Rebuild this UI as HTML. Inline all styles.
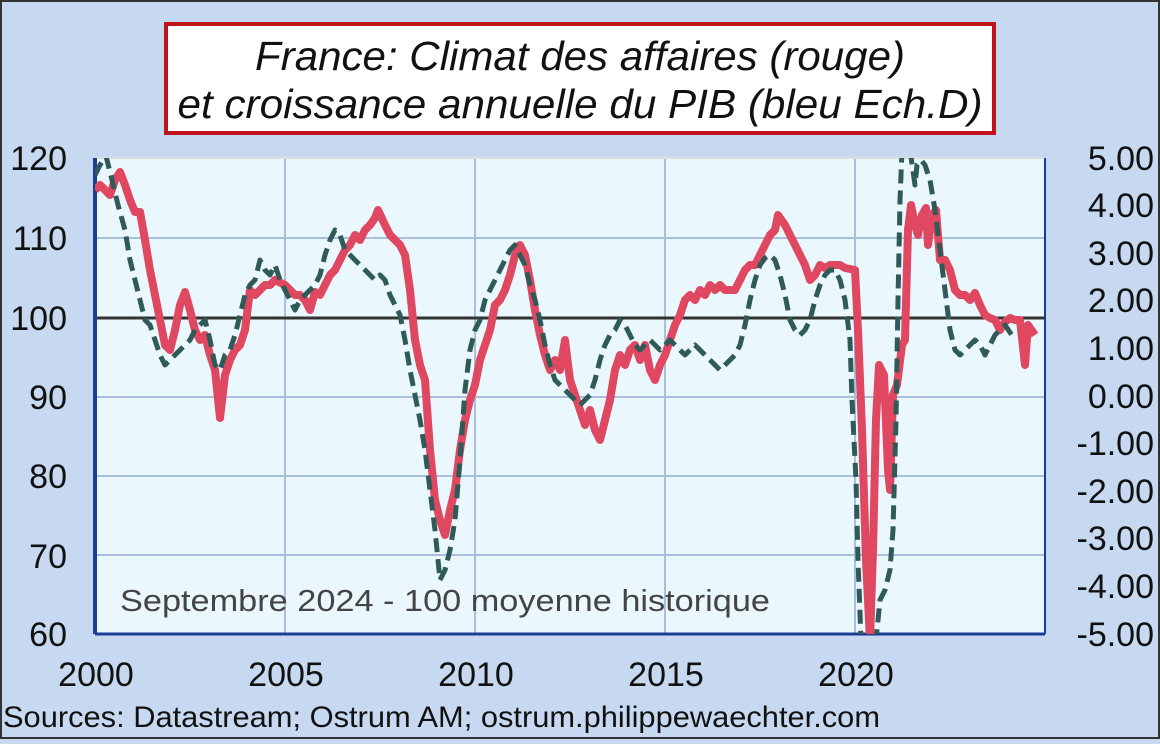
<!DOCTYPE html>
<html><head><meta charset="utf-8"><style>
body{margin:0;width:1160px;height:739px;overflow:hidden;background:#c6d9f0;font-family:"Liberation Sans",sans-serif;}
</style></head><body>
<svg width="1160" height="739" xmlns="http://www.w3.org/2000/svg" font-family="Liberation Sans, sans-serif">
<rect x="0" y="0" width="1160" height="739" fill="#c6d9f0"/>
<rect x="1" y="1" width="1158" height="737" fill="none" stroke="#333" stroke-width="2"/>
<rect x="166" y="24" width="828" height="109" fill="#fff" stroke="#c0141c" stroke-width="4"/>
<text x="580" y="70" font-size="41" font-style="italic" text-anchor="middle" fill="#111" textLength="650" lengthAdjust="spacingAndGlyphs">France: Climat des affaires (rouge)</text>
<text x="580" y="118" font-size="41" font-style="italic" text-anchor="middle" fill="#111" textLength="805" lengthAdjust="spacingAndGlyphs">et croissance annuelle du PIB (bleu Ech.D)</text>
<rect x="95" y="158" width="950" height="476" fill="#eaf8fe"/>
<g stroke="#a9bfdc" stroke-width="2">
<line x1="95" y1="238" x2="1045" y2="238"/><line x1="95" y1="397" x2="1045" y2="397"/>
<line x1="95" y1="476" x2="1045" y2="476"/><line x1="95" y1="555" x2="1045" y2="555"/>
<line x1="285" y1="158" x2="285" y2="634"/><line x1="475" y1="158" x2="475" y2="634"/>
<line x1="665" y1="158" x2="665" y2="634"/><line x1="855" y1="158" x2="855" y2="634"/>
</g>
<line x1="95" y1="318" x2="1045" y2="318" stroke="#333" stroke-width="3"/>
<line x1="95" y1="158" x2="1045" y2="158" stroke="#ddd" stroke-width="2"/>
<line x1="95" y1="158" x2="95" y2="634" stroke="#1a3e96" stroke-width="4"/>
<line x1="1045" y1="158" x2="1045" y2="634" stroke="#1a3e96" stroke-width="2"/>
<line x1="95" y1="634" x2="1045" y2="634" stroke="#1a3e96" stroke-width="3"/>
<svg x="95" y="158" width="950" height="476" viewBox="95 158 950 476" overflow="hidden">
<polyline fill="none" stroke="#df4860" stroke-width="8" stroke-linejoin="round" points="95,190 100,185 105,190 110,195 115,180 120,172 125,185 130,200 135,212 140,212 145,240 150,270 155,295 160,320 165,345 170,350 175,330 180,305 185,292 190,310 195,330 200,340 205,335 210,355 215,370 220,418 225,375 230,360 235,350 240,345 245,330 250,290 255,295 260,290 265,285 270,285 275,280 285,285 290,290 295,295 300,295 305,300 310,310 315,292 320,295 325,285 330,275 335,270 340,260 345,250 350,245 355,235 360,240 365,230 370,225 375,218 378,210 385,225 390,235 395,240 400,245 405,255 410,290 415,340 420,365 425,380 430,450 435,500 440,520 445,535 450,510 455,490 460,450 465,420 470,400 475,385 480,360 485,345 490,330 495,305 500,300 505,290 510,275 515,255 520,245 525,255 530,280 535,310 540,335 545,355 550,370 555,360 560,370 565,340 570,380 575,395 580,410 585,425 590,410 595,430 600,440 605,420 610,400 615,370 620,355 625,365 630,350 635,345 640,360 645,345 650,370 655,380 660,365 665,355 670,340 675,325 680,315 685,300 690,295 695,300 700,290 705,295 710,285 715,290 720,285 725,290 730,290 735,290 740,280 745,270 750,265 755,265 760,255 765,245 770,235 775,230 778,215 785,225 790,235 795,245 800,255 805,265 810,280 815,275 820,265 825,268 830,265 835,265 840,265 845,268 855,270 858,330 862,430 866,560 870,640 873,550 876,420 879,365 884,375 888,470 890,490 893,395 897,385 902,345 905,340 908,230 911,205 915,225 918,235 922,215 926,208 928,245 932,215 936,210 940,260 945,260 950,270 955,290 960,295 965,295 970,300 975,293 980,305 985,315 990,318 995,320 1000,330 1005,322 1010,318 1015,320 1020,320 1025,365 1028,325 1035,335"/>
<polyline fill="none" stroke="#2f5a57" stroke-width="5" stroke-dasharray="14,7" stroke-linejoin="round" points="95,175 100,165 106,156 112,180 118,205 125,230 130,260 135,280 140,300 145,320 150,325 155,340 160,355 165,365 170,360 175,355 180,350 185,345 190,340 195,330 200,325 205,320 210,340 215,365 220,370 225,355 230,350 235,335 240,315 245,295 250,285 255,280 260,260 265,270 270,275 275,265 280,280 285,290 290,300 295,310 300,300 305,295 310,290 315,285 320,275 325,255 330,240 335,230 340,235 345,250 350,255 355,260 360,265 365,270 370,275 375,280 380,275 385,280 390,295 395,305 400,315 405,340 410,370 415,395 420,420 425,450 430,490 435,530 440,580 445,570 450,550 455,520 460,460 465,390 470,350 475,330 480,320 485,300 490,290 495,280 500,270 505,260 510,250 515,245 520,255 525,265 530,285 535,300 540,320 545,345 550,365 555,380 560,385 565,390 570,395 575,400 580,405 585,400 590,395 595,380 600,360 605,345 610,335 615,330 620,320 625,325 630,335 635,345 640,350 645,345 650,340 655,345 660,350 665,345 670,340 675,345 680,350 685,355 690,350 695,345 700,350 705,355 710,360 715,365 720,370 725,365 730,360 735,355 740,345 745,325 750,300 755,280 760,265 765,258 770,255 775,260 780,275 785,295 790,320 795,330 800,335 805,330 810,320 815,300 820,285 825,275 830,270 835,270 840,280 845,300 850,340 852,400 856,480 858,560 861,640 876,640 880,600 885,590 890,570 893,530 896,420 898,300 900,200 902,150 910,150 915,185 917,165 921,160 925,165 930,180 935,210 940,250 945,290 950,330 955,350 960,355 965,350 970,345 975,340 980,345 985,355 990,345 995,335 1000,330 1005,325 1015,340"/>
</svg>
<text x="120" y="611" font-size="31" fill="#444" textLength="650" lengthAdjust="spacingAndGlyphs">Septembre 2024 - 100 moyenne historique</text>
<g font-size="34" fill="#111" text-anchor="end">
<text x="67" y="170">120</text><text x="67" y="250">110</text><text x="67" y="330">100</text>
<text x="67" y="409">90</text><text x="67" y="488">80</text><text x="67" y="568">70</text><text x="67" y="646">60</text>
</g>
<g font-size="34" fill="#111" text-anchor="end">
<text x="1154" y="170">5.00</text><text x="1154" y="217">4.00</text><text x="1154" y="265">3.00</text>
<text x="1154" y="312">2.00</text><text x="1154" y="360">1.00</text><text x="1154" y="408">0.00</text>
<text x="1154" y="455">-1.00</text><text x="1154" y="503">-2.00</text><text x="1154" y="550">-3.00</text>
<text x="1154" y="598">-4.00</text><text x="1154" y="646">-5.00</text>
</g>
<g font-size="34" fill="#111" text-anchor="middle">
<text x="96" y="686">2000</text><text x="286" y="686">2005</text><text x="476" y="686">2010</text>
<text x="666" y="686">2015</text><text x="856" y="686">2020</text>
</g>
<text x="3" y="727" font-size="30" fill="#111" textLength="877" lengthAdjust="spacingAndGlyphs">Sources: Datastream;  Ostrum AM; ostrum.philippewaechter.com</text>
</svg>
</body></html>
